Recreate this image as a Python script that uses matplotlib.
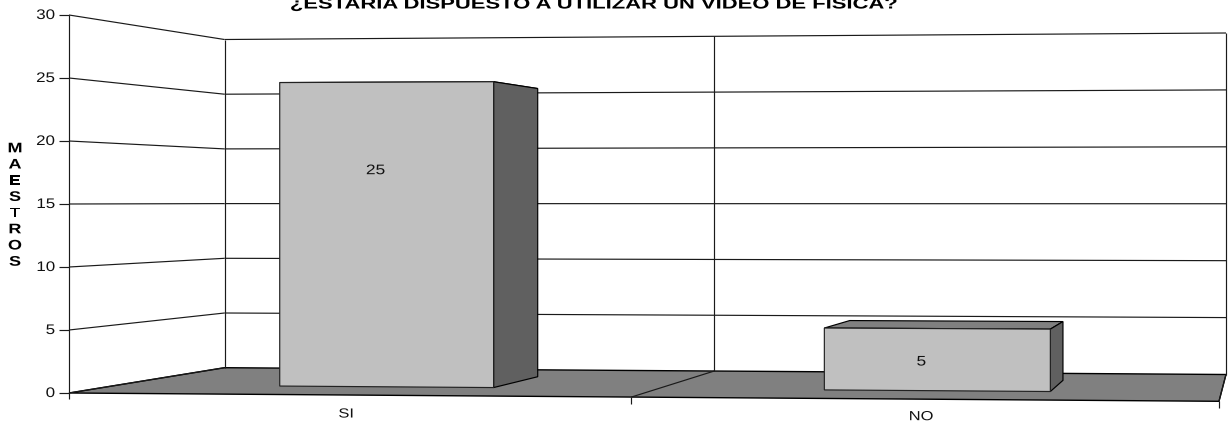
import matplotlib
matplotlib.use("Agg")
import matplotlib.pyplot as plt
from matplotlib.patches import Polygon
from matplotlib.patheffects import AbstractPathEffect
from matplotlib.transforms import Affine2D

plt.rcParams['font.family'] = ['Liberation Sans', 'DejaVu Sans']

categories = ["SI", "NO"]
values = [25, 5]
y_ticks = [0, 5, 10, 15, 20, 25, 30]
title = "¿ESTARIA DISPUESTO A UTILIZAR UN VIDEO DE FISICA?"
y_title = "MAESTROS"

Y_MAX = 30
# projection frame: pixel corners (u=0/1, d=0 front/1 back), floor and top
F0L, F0R, F1L, F1R = (69, 393), (1219, 401.3), (224.5, 367.7), (1226, 374.5)
T0L, T0R, T1L, T1R = (69, 15), (1219, 8.3), (224.5, 39.5), (1226, 33)
EDGES = [0, 0.489, 1.0]
BAR_SPAN = [(0.146, 0.340), (0.640, 0.845)]
D_FRONT, D_BACK = 0.32, 0.74
LABEL_POS = [0.711, 0.47]
LABEL_DX = [-11, -16]
CAT_DY = [19.5, 18]


class Stretch(AbstractPathEffect):
    """The reference's text is wider than the font: widen glyphs about an anchor."""

    def __init__(self, sx, anchor="center"):
        super().__init__()
        self.sx, self.anchor = sx, anchor

    def draw_path(self, renderer, gc, tpath, affine, rgbFace=None):
        ext = tpath.get_extents()
        xa = ext.x1 if self.anchor == "right" else (ext.x0 + ext.x1) / 2
        tr = Affine2D().translate(-xa, 0).scale(self.sx, 1).translate(xa, 0)
        renderer.draw_path(gc, tpath, tr + affine, rgbFace)


def bil(a, b, c, e, u, d):
    return tuple((1 - d) * ((1 - u) * a[i] + u * b[i]) + d * ((1 - u) * c[i] + u * e[i]) for i in (0, 1))


def P(u, d, v):
    f = bil(F0L, F0R, F1L, F1R, u, d)
    t = bil(T0L, T0R, T1L, T1R, u, d)
    k = v / Y_MAX
    return (f[0] + k * (t[0] - f[0]), f[1] + k * (t[1] - f[1]))


fig = plt.figure(figsize=(12.31, 4.28), dpi=100)
ax = fig.add_axes([0, 0, 1, 1])
ax.set_xlim(0, 1231)
ax.set_ylim(428, 0)
ax.axis("off")

LC, LW = "#1a1a1a", 0.85


def line(p, q, z=3):
    ax.plot([p[0], q[0]], [p[1], q[1]], color=LC, lw=LW, solid_capstyle="butt", zorder=z)


# floor
ax.add_patch(Polygon([P(0, 0, 0), P(1, 0, 0), P(1, 1, 0), P(0, 1, 0)], closed=True,
                     fc="#808080", ec="black", lw=1.0, zorder=1))
# gridlines
for t in y_ticks:
    if t > 0:
        line(P(0, 0, t), P(0, 1, t))
        line(P(0, 1, t), P(1, 1, t))
    line((P(0, 0, t)[0] - 10, P(0, 0, t)[1]), P(0, 0, t))
    ax.text(55, P(0, 0, t)[1], str(t), ha="right", va="center", fontsize=10, color="#111111",
            path_effects=[Stretch(1.22, "right")], zorder=6)

line((69, 399), P(0, 0, Y_MAX))
for e in EDGES:
    line(P(e, 1, 0), P(e, 1, Y_MAX))
    line(P(e, 0, 0), P(e, 1, 0))
    if e > 0:
        a = P(e, 0, 0)
        line(a, (a[0], a[1] + 7))

# bars
for i, (cat, val) in enumerate(zip(categories, values)):
    u0, u1 = BAR_SPAN[i]
    c = (u0 + u1) / 2
    z = 4
    ax.add_patch(Polygon([P(u0, D_FRONT, val), P(u1, D_FRONT, val), P(u1, D_BACK, val), P(u0, D_BACK, val)],
                         fc="#808080", ec="black", lw=LW, zorder=z))
    ax.add_patch(Polygon([P(u1, D_FRONT, 0), P(u1, D_BACK, 0), P(u1, D_BACK, val), P(u1, D_FRONT, val)],
                         fc="#606060", ec="black", lw=LW, zorder=z))
    ax.add_patch(Polygon([P(u0, D_FRONT, 0), P(u1, D_FRONT, 0), P(u1, D_FRONT, val), P(u0, D_FRONT, val)],
                         fc="#C0C0C0", ec="#222222", lw=LW, zorder=z))
    bl = P(c, D_FRONT, 0)
    tp = P(c, D_FRONT, val)
    k = LABEL_POS[i]
    ax.text(bl[0] + LABEL_DX[i], bl[1] + k * (tp[1] - bl[1]), str(val), ha="center", va="center",
            fontsize=10, color="#111111", path_effects=[Stretch(1.25)], zorder=6)
    fb = P((EDGES[i] + EDGES[i + 1]) / 2, 0, 0)
    ax.text(fb[0] - 4, fb[1] + CAT_DY[i], cat, ha="center", va="center", fontsize=9.5, color="#111111",
            path_effects=[Stretch(1.25)], zorder=6)

ax.text(593, 8.5, title, ha="center", va="baseline", fontsize=11, fontweight="bold", color="black",
        path_effects=[Stretch(1.44)], zorder=6)
ax.text(15, 205, "\n".join(y_title), ha="center", va="center", fontsize=10, fontweight="bold",
        color="black", linespacing=1.2, path_effects=[Stretch(1.3)], zorder=6)

fig.savefig("out.png", dpi=100)
